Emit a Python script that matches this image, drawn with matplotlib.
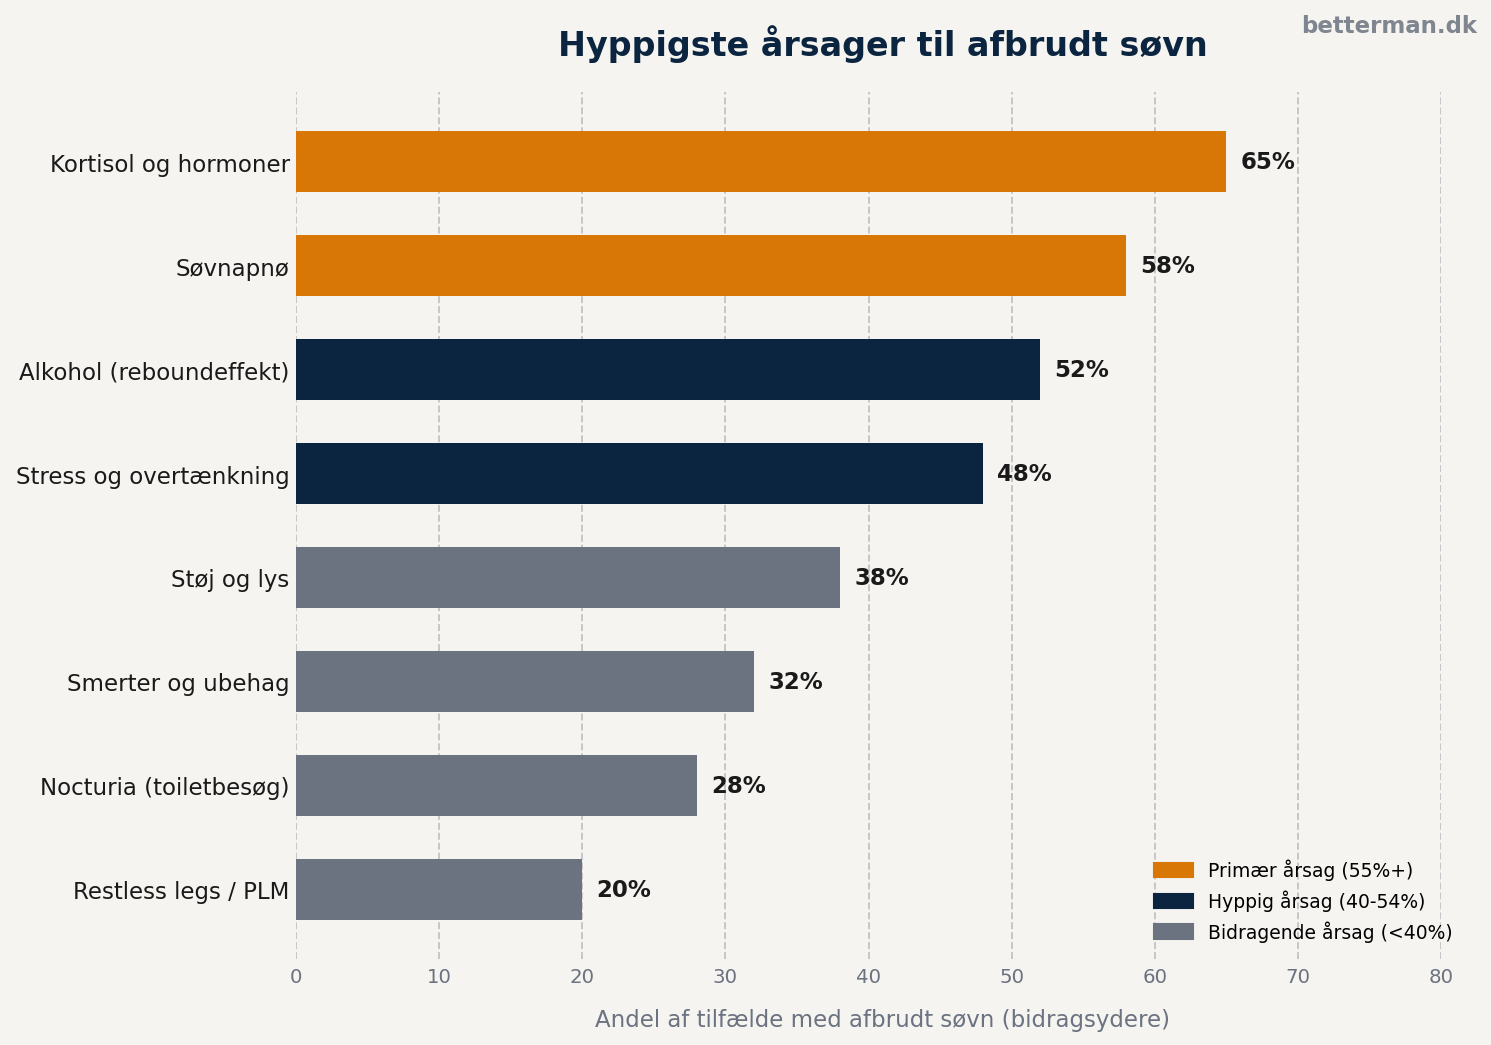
import matplotlib.pyplot as plt
from matplotlib.patches import Patch

# data
causes = [
    "Kortisol og hormoner",
    "Søvnapnø",
    "Alkohol (reboundeffekt)",
    "Stress og overtænkning",
    "Støj og lys",
    "Smerter og ubehag",
    "Nocturia (toiletbesøg)",
    "Restless legs / PLM",
]
shares = [65, 58, 52, 48, 38, 32, 28, 20]
legend_labels = ["Primær årsag (55%+)", "Hyppig årsag (40-54%)", "Bidragende årsag (<40%)"]

ORANGE = "#D97706"
NAVY = "#0B2540"
GRAY = "#6B7280"
BG = "#F5F4F0"


def bar_color(v):
    if v >= 55:
        return ORANGE
    if v >= 40:
        return NAVY
    return GRAY


fig = plt.figure(figsize=(9.94, 6.9733), dpi=150, facecolor=BG)
ax = fig.add_axes([0.1985, 0.0822, 0.768, 0.8289])
ax.set_facecolor(BG)

ypos = list(range(len(causes)))
ax.barh(ypos, shares, height=0.58, color=[bar_color(v) for v in shares], zorder=3)

for y, v in zip(ypos, shares):
    ax.text(v + 1, y, f"{v}%", va="center", ha="left", fontsize=11,
            fontweight="bold", color="#1a1a1a", zorder=4)

ax.set_yticks(ypos)
ax.set_yticklabels(causes, fontsize=11, color="#1a1a1a")
ax.set_ylim(len(causes) - 1 + 0.67, -0.67)
ax.set_xlim(0, 80)
ax.set_xticks(range(0, 81, 10))
ax.tick_params(axis="x", labelsize=9.5, colors=GRAY, length=0, pad=3.6)
ax.tick_params(axis="y", length=0, pad=3)
ax.grid(axis="x", linestyle="--", color="#C4C4C8", linewidth=0.9, zorder=0)
for s in ax.spines.values():
    s.set_visible(False)

ax.set_xlabel("Andel af tilfælde med afbrudt søvn (bidragsydere)", fontsize=11,
              color=GRAY, labelpad=11)
ax.xaxis.label.set_x(0.512)

handles = [Patch(color=c) for c in (ORANGE, NAVY, GRAY)]
ax.legend(handles, legend_labels, loc="lower right", frameon=False, fontsize=9,
          handlelength=2.1, handleheight=0.8, bbox_to_anchor=(1.025, 0.0))

fig.text(0.592, 0.958, "Hyppigste årsager til afbrudt søvn", ha="center", va="center",
         fontsize=16, fontweight="bold", color=NAVY)
fig.text(0.9906, 0.975, "betterman.dk", ha="right", va="center", fontsize=11,
         fontweight="bold", color="#7F868F")

fig.savefig("out.png", dpi=150, facecolor=BG)
